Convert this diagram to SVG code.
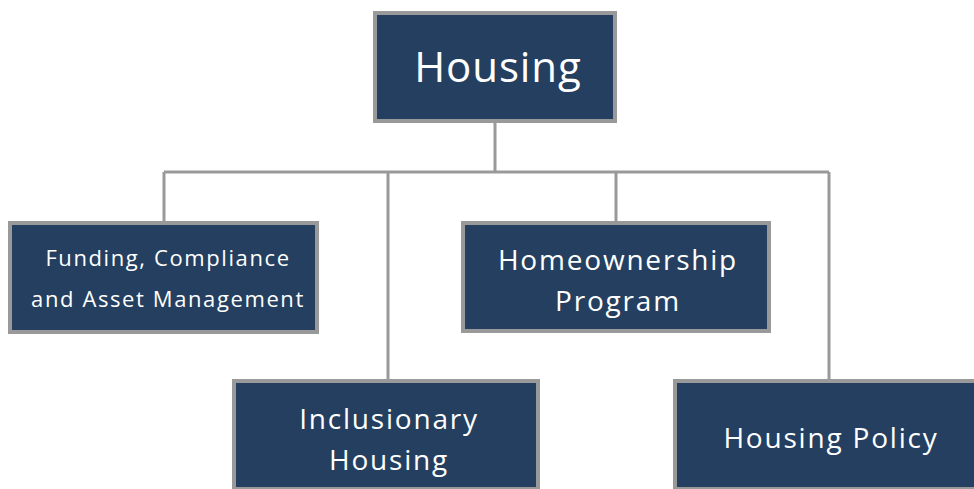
<svg xmlns="http://www.w3.org/2000/svg" width="974" height="489" viewBox="0 0 974 489">
<style>
.box{fill:#243F60;stroke:#999999;stroke-width:4}
.t{fill:#ffffff;font-family:"Open Sans","DejaVu Sans",sans-serif;text-anchor:middle}
.m{font-size:28px;letter-spacing:1.8px}
.s{font-size:22px;letter-spacing:1.6px}
.c{fill:none;stroke:#999999;stroke-width:3}
</style>
<rect width="974" height="489" fill="#ffffff"/>
<g id="connectors">
<path class="c" d="M495 122V172M164 172H829M164 172V222M388 172V380M616 172V222M829 172V380"/>
</g>
<g id="housing">
<rect class="box" x="375" y="13" width="240" height="108"/>
<text class="t" x="498" y="82" font-size="42" letter-spacing="0.9">Housing</text>
</g>
<g id="funding">
<rect class="box" x="10" y="223" width="307" height="109"/>
<text class="t s" x="168" y="266">Funding, Compliance</text>
<text class="t s" x="168" y="307">and Asset Management</text>
</g>
<g id="homeownership">
<rect class="box" x="463" y="223" width="306" height="108"/>
<text class="t m" x="618" y="270">Homeownership</text>
<text class="t m" x="618" y="311">Program</text>
</g>
<g id="inclusionary">
<rect class="box" x="234" y="381" width="304" height="108"/>
<text class="t m" x="389" y="429">Inclusionary</text>
<text class="t m" x="389" y="470">Housing</text>
</g>
<g id="policy">
<rect class="box" x="675" y="381" width="312" height="108"/>
<text class="t m" x="831" y="448">Housing Policy</text>
</g>
</svg>
